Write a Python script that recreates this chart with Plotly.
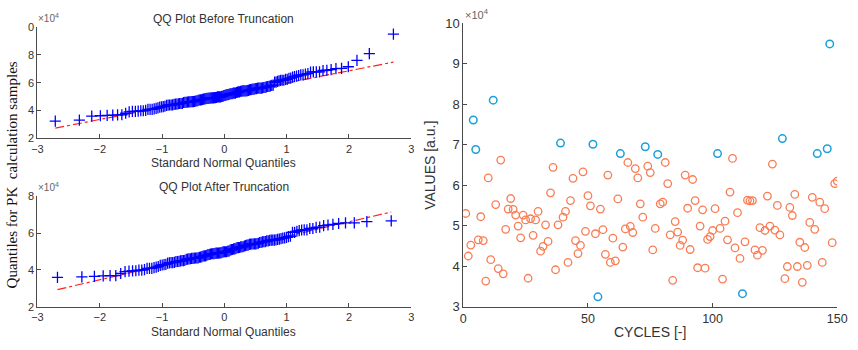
import plotly.graph_objects as go
from statistics import NormalDist
import numpy as np

# ---------------- data ----------------
# Values per cycle (cycle 1 .. 150)
values = [
    53000, 42500, 45200, 76100, 68800, 46500, 52200, 46300, 36300, 61800,
    41600, 81000, 55200, 39400, 66200, 38100, 49100, 54100, 56700, 54000,
    52600, 49900, 47000, 52600, 51400, 37000, 51700, 47600, 51400, 53500,
    43700, 44900, 50200, 46100, 58100, 64400, 39100, 50200, 70400, 52100,
    53500, 40900, 56200, 61700, 46300, 43100, 45100, 63300, 48600, 57400,
    54900, 70100, 48000, 32400, 54100, 49000, 42900, 62500, 40900, 46900,
    41300, 56600, 67800, 44700, 49200, 65600, 49800, 48300, 64100, 61800,
    55400, 52100, 69500, 64700, 63100, 44000, 49300, 67600, 55400, 55800,
    65600, 60400, 47700, 36500, 51000, 48400, 45100, 46400, 62500, 54300,
    44100, 61400, 56200, 39600, 49900, 53900, 39500, 46600, 47300, 48800,
    54200, 67800, 49300, 36800, 51100, 46500, 58300, 66600, 44500, 53200,
    41900, 33200, 46000, 56300, 56100, 56200, 44000, 42700, 49500, 43900,
    48800, 57300, 49900, 65200, 48900, 55000, 47700, 71500, 36900, 39900,
    54500, 52500, 57700, 39900, 45900, 36000, 44600, 40200, 50800, 57000,
    49100, 67800, 55800, 40900, 54200, 69000, 94900, 45800, 60400, 61000,
]
cycles = list(range(1, len(values) + 1))
# cycles flagged as outliers (blue circles), removed by the truncation
outlier_cycles = [4, 5, 12, 39, 52, 54, 63, 73, 78, 102, 112, 128, 142, 146, 147]

title_before = "QQ Plot Before Truncation"
title_after = "QQ Plot After Truncation"
xlab_qq = "Standard Normal Quantiles"
ylab_qq = "Quantiles for PK\u00a0 calculation samples"
xlab_r = "CYCLES [-]"
ylab_r = "VALUES [a.u.]"

qq_xticks = [-3, -2, -1, 0, 1, 2, 3]
top_yticks = [20000, 40000, 60000, 80000, 100000]
top_yticktext = ["2", "4", "6", "8", "0"]
bot_yticks = [20000, 40000, 60000, 80000]
bot_yticktext = ["2", "4", "6", "8"]
r_xticks = [0, 50, 100, 150]
r_yticks = [30000, 40000, 50000, 60000, 70000, 80000, 90000, 100000]
r_yticktext = ["3", "4", "5", "6", "7", "8", "9", "10"]

# ---------------- derived (QQ) ----------------
normal_x = [c for c in cycles if c not in outlier_cycles]
normal_y = [values[c - 1] for c in normal_x]
out_x = [c for c in cycles if c in outlier_cycles]
out_y = [values[c - 1] for c in out_x]

nd = NormalDist()


def qq(data):
    d = np.sort(np.array(data, dtype=float))
    n = len(d)
    z = np.array([nd.inv_cdf((i - 0.5) / n) for i in range(1, n + 1)])
    q1, q3 = np.percentile(d, [25, 75], method="hazen")
    z1, z3 = nd.inv_cdf(0.25), nd.inv_cdf(0.75)
    slope = (q3 - q1) / (z3 - z1)
    lx = np.array([z[0], z[-1]])
    ly = q1 + slope * (lx - z1)
    return z, d, lx, ly


zb, db, lxb, lyb = qq(values)
za, da, lxa, lya = qq(normal_y)

# ---------------- figure ----------------
W, H = 858, 350


def fx(p):
    return p / W


def fy(p):
    return 1 - p / H


BLUE = "#0000FF"
ORANGE = "#F97C53"
CYAN = "#1C9FDA"
AX = "#4a4a4a"
TXT = "#333333"
FONT = "Liberation Sans, Arial, sans-serif"

fig = go.Figure()

plus = dict(symbol="cross-thin-open", size=8, color=BLUE, line=dict(color=BLUE, width=1.3))

# top QQ
fig.add_trace(go.Scatter(x=lxb, y=lyb, mode="lines", xaxis="x", yaxis="y",
                         line=dict(color="#FF2020", width=1.2, dash="dashdot")))
fig.add_trace(go.Scatter(x=zb, y=db, mode="markers", xaxis="x", yaxis="y", marker=plus))
# bottom QQ
fig.add_trace(go.Scatter(x=lxa, y=lya, mode="lines", xaxis="x2", yaxis="y2",
                         line=dict(color="#FF2020", width=1.2, dash="dashdot")))
fig.add_trace(go.Scatter(x=za, y=da, mode="markers", xaxis="x2", yaxis="y2", marker=plus))
# right scatter
fig.add_trace(go.Scatter(x=normal_x, y=normal_y, mode="markers", xaxis="x3", yaxis="y3",
                         marker=dict(symbol="circle-open", size=7.5,
                                     line=dict(color=ORANGE, width=1.3), color=ORANGE)))
fig.add_trace(go.Scatter(x=out_x, y=out_y, mode="markers", xaxis="x3", yaxis="y3",
                         marker=dict(symbol="circle-open", size=7.5,
                                     line=dict(color=CYAN, width=1.5), color=CYAN)))

common = dict(showline=True, linecolor=AX, linewidth=1, ticks="inside", ticklen=4,
              tickcolor=AX, showgrid=False, zeroline=False, mirror=False,
              tickfont=dict(family=FONT, size=11, color=TXT), ticklabeloverflow="allow")
big = {**common, "tickfont": dict(family=FONT, size=13, color=TXT)}
bigx = {**common, "tickfont": dict(family=FONT, size=12.5, color=TXT)}

left_dom = [fx(32), fx(413)]
fig.update_layout(
    width=W, height=H, margin=dict(l=0, r=0, t=0, b=0),
    paper_bgcolor="white", plot_bgcolor="white", showlegend=False,
    xaxis=dict(domain=left_dom, anchor="y", range=[-3, 3], tickvals=qq_xticks, **common),
    yaxis=dict(domain=[fy(137.3), fy(21)], anchor="x", range=[20000, 100000],
               tickvals=top_yticks, ticktext=top_yticktext, **common),
    xaxis2=dict(domain=left_dom, anchor="y2", range=[-3, 3], tickvals=qq_xticks, **common),
    yaxis2=dict(domain=[fy(313.3), fy(197.7)], anchor="x2", range=[20000, 80000],
                tickvals=bot_yticks, ticktext=bot_yticktext, **common),
    xaxis3=dict(domain=[fx(466), fx(847)], anchor="y3", range=[0, 150], tickvals=r_xticks, **bigx),
    yaxis3=dict(domain=[fy(313), fy(17)], anchor="x3", range=[30000, 100000],
                tickvals=r_yticks, ticktext=r_yticktext, **big),
)

ann = []


def text(t, x, y, size=11, angle=0, xanchor="center", yanchor="middle", color=TXT, family=FONT):
    ann.append(dict(text=t, x=fx(x), y=fy(y), xref="paper", yref="paper", showarrow=False,
                    xanchor=xanchor, yanchor=yanchor, textangle=angle,
                    font=dict(family=family, size=size, color=color)))


text(title_before, 222, 13, size=12)
text(title_after, 222, 188, size=12)
text(xlab_qq, 222, 163, size=12)
text(xlab_qq, 222, 340, size=12)
text(ylab_qq, 6, 175, size=15, angle=-90, color="#111111",
     family="Liberation Serif, Times New Roman, serif")
text("\u00d710<sup>4</sup>", 31, 20, size=10, xanchor="left", yanchor="bottom", color="#666666")
text("\u00d710<sup>4</sup>", 31, 196, size=10, xanchor="left", yanchor="bottom", color="#666666")
text("\u00d710<sup>4</sup>", 466, 17, size=11, xanchor="left", yanchor="bottom", color="#666666")
text(xlab_r, 656, 340, size=14)
text(ylab_r, 432, 165, size=14, angle=-90)

fig.update_layout(annotations=ann)
fig.write_html("out.html", config={"displayModeBar": False},
               post_script="document.body.style.margin='0px';")
